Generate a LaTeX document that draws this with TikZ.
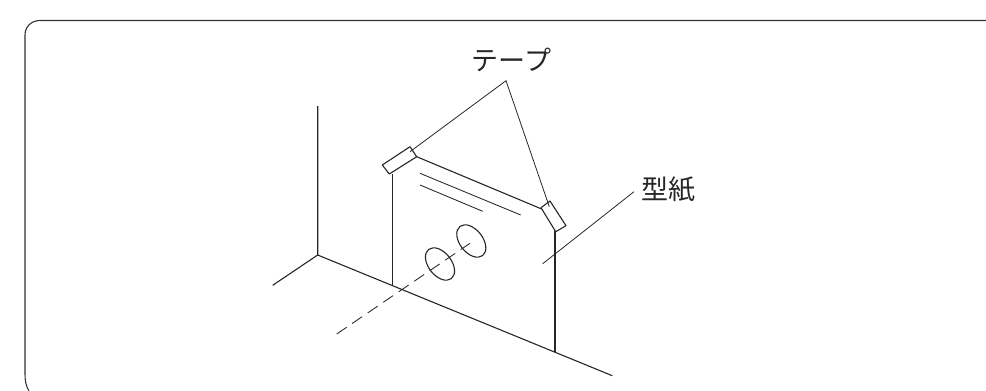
\documentclass[tikz,border=0pt]{standalone}
\usepackage{fontspec}
\newfontfamily\cjk{Noto Sans CJK JP}
\tikzset{
  outline/.style={draw=black!85,line width=1.1pt,line join=round},
  leader/.style={draw=black!85,line width=0.8pt},
  thinline/.style={draw=black!85,line width=0.85pt},
  label/.style={font=\cjk\fontsize{27}{27}\selectfont,text=black!85,inner sep=0pt}
}
\begin{document}
\begin{tikzpicture}[x=1pt,y=-1pt]
\useasboundingbox (0,0) rectangle (986,391);
% frame
\draw[draw=black!80,line width=1.1pt] (986,20.5) -- (40,20.5) .. controls (31,20.5) and (25,27) .. (25,35) -- (25,374) .. controls (25,381) and (26,386) .. (29,391);
% labels
\node[label] (tape) at (511.5,60) {テープ};
\node[label] (paper) at (668,190) {型紙};
% key points
\coordinate (apex) at (506,80.7);
\coordinate (tapeL) at (410,151.7);
\coordinate (tapeR) at (549.3,206.7);
\coordinate (paperA) at (634,191.7);
\coordinate (paperB) at (542.7,263.7);
% wall and floor
\draw[outline] (317.7,106) -- (317.7,255) -- (612.3,375.7);
\draw[outline] (317.7,255) -- (272.7,285.3);
% paper
\draw[outline] (392.7,174) -- (392.7,286);
\draw[outline] (555,231) -- (555,352.3);
\draw[outline] (416.7,156.7) -- (541.7,209);
% printed lines
\draw[thinline] (420,173.3) -- (520.7,215);
\draw[thinline] (420,185) -- (482.7,211.3);
% tapes
\draw[outline,fill=white] (382.3,165) -- (410,146.7) -- (416.7,156.7) -- (389.3,174) -- cycle;
\draw[outline,fill=white] (541,207.7) -- (550,201) -- (566,225.7) -- (555.7,231.7) -- cycle;
% holes
\draw[outline] (440,264) ellipse[x radius=18.5,y radius=11.5,rotate=-52];
\draw[outline] (471.3,241) ellipse[x radius=18.5,y radius=11.5,rotate=-52];
% centre line
\draw[thinline,dash pattern=on 12pt off 6.75pt] (336.7,334) -- (470,243.3);
% leaders
\draw[leader] (tapeL) -- (apex) -- (tapeR);
\draw[leader] (paperA) -- (paperB);
\end{tikzpicture}
\end{document}
